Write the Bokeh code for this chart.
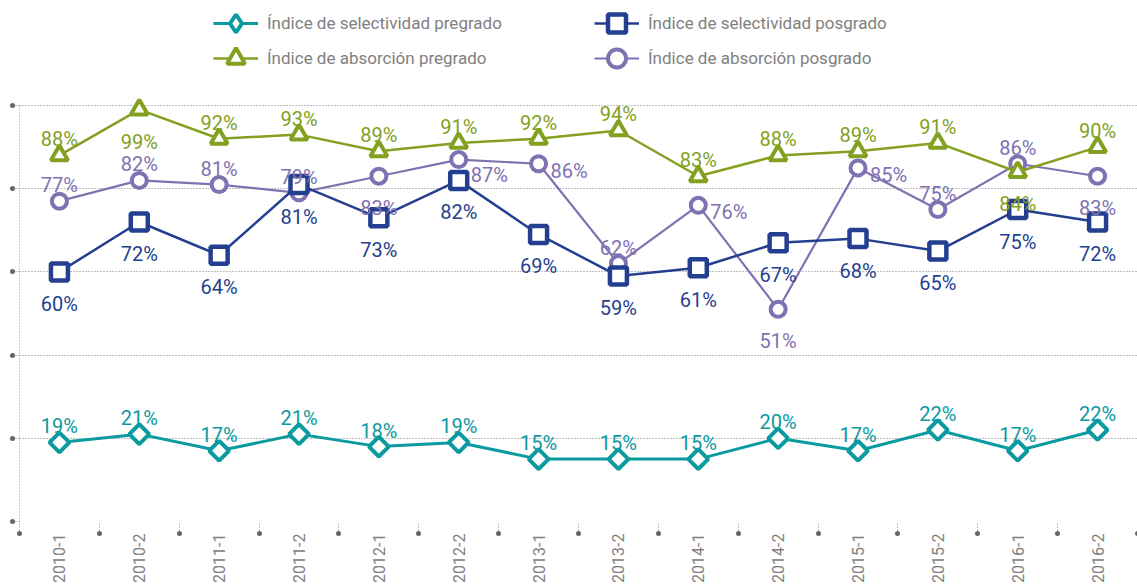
import math
from bokeh.plotting import figure
from bokeh.models import (Range1d, FixedTicker, Legend, LegendItem,
                          ColumnDataSource, LinearAxis)
from bokeh.embed import file_html
from bokeh.resources import INLINE
from bokeh.core.properties import value

# ---------------- data ----------------
periods = ["2010-1", "2010-2", "2011-1", "2011-2", "2012-1", "2012-2", "2013-1",
           "2013-2", "2014-1", "2014-2", "2015-1", "2015-2", "2016-1", "2016-2"]
sel_pregrado = [19, 21, 17, 21, 18, 19, 15, 15, 15, 20, 17, 22, 17, 22]
sel_posgrado = [60, 72, 64, 81, 73, 82, 69, 59, 61, 67, 68, 65, 75, 72]
abs_pregrado = [88, 99, 92, 93, 89, 91, 92, 94, 83, 88, 89, 91, 84, 90]
abs_posgrado = [77, 82, 81, 79, 83, 87, 86, 62, 76, 51, 85, 75, 86, 83]

# label placement for each point (style only)
place_sel_pre = ["above"] * 14
place_sel_pos = ["below"] * 14
place_abs_pre = ["above", "below"] + ["above"] * 10 + ["below", "above"]
place_abs_pos = ["above", "above", "above", "above", "below", "lowright", "right",
                 "above", "right", "below", "right", "above", "above", "below"]

names = ["Índice de selectividad pregrado", "Índice de absorción pregrado",
         "Índice de selectividad posgrado", "Índice de absorción posgrado"]

FONT_STR = "Roboto"
FONT = value(FONT_STR)
TEAL, NAVY, GREEN, PURPLE = "#0a9aa0", "#243f8f", "#84a021", "#8071b2"
GREY = "#808080"

n = len(periods)
xs = [i + 0.5 for i in range(n)]
yt = [0, 0.2, 0.4, 0.6, 0.8, 1.0]

# frame spans from the top of the figure so the legend sits inside it
Y_TOP = 521 / 416.0
p = figure(width=1137, height=585, x_range=Range1d(0, n), y_range=Range1d(0, Y_TOP),
           output_backend="svg", toolbar_location=None,
           min_border_left=19, min_border_right=0, min_border_top=0,
           min_border_bottom=64)
p.outline_line_color = None
p.background_fill_color = "white"

# grid
p.xgrid.visible = False
p.ygrid.ticker = FixedTicker(ticks=yt)
p.ygrid.grid_line_color = "#808080"
p.ygrid.grid_line_dash = "1 2"

# y axis: dotted stems + end dots, no labels
ya = p.yaxis[0]
ya.ticker = FixedTicker(ticks=yt, minor_ticks=yt)
ya.bounds = (0, 1)
ya.axis_line_color = "#a0a0a0"
ya.axis_line_dash = "1 2"
ya.major_tick_in = 0
ya.major_tick_out = 7
ya.major_tick_line_color = "#808080"
ya.major_tick_line_dash = "1 2"
ya.minor_tick_in = 0
ya.minor_tick_out = 7
ya.minor_tick_line_color = "#666666"
ya.minor_tick_line_width = 5
ya.minor_tick_line_cap = "round"
ya.minor_tick_line_dash = "0 20"
ya.major_label_overrides = {t: "" for t in yt}
ya.major_label_text_font_size = "1px"
ya.major_label_standoff = 0

# x axis 1 (closest to frame): dotted stems and dots at band edges
edges = list(range(n + 1))
xa = p.xaxis[0]
xa.ticker = FixedTicker(ticks=edges, minor_ticks=edges)
xa.major_label_overrides = {e: "" for e in edges}
xa.major_label_text_font_size = "1px"
xa.major_label_standoff = 0
xa.major_tick_in = 0
xa.major_tick_out = 12
xa.major_tick_line_color = "#808080"
xa.major_tick_line_dash = "1 2"
xa.minor_tick_in = 0
xa.minor_tick_out = 12
xa.minor_tick_line_color = "#666666"
xa.minor_tick_line_width = 5
xa.minor_tick_line_cap = "round"
xa.minor_tick_line_dash = "0 20"
xa.axis_line_color = None

# x axis 2: category labels
xl = LinearAxis(ticker=FixedTicker(ticks=xs, minor_ticks=[]),
                major_label_overrides={x: lab for x, lab in zip(xs, periods)},
                major_label_orientation=math.pi / 2,
                major_label_text_font=FONT_STR,
                major_label_text_font_size="16px",
                major_label_text_color=GREY,
                major_label_standoff=0,
                major_tick_line_color=None, minor_tick_line_color=None,
                major_tick_in=0, major_tick_out=0,
                axis_line_color=None)
p.add_layout(xl, "below")

# series: (values, placement, color, marker, size, angle, line width, marker lw)
series = {
    "abs_pos": (abs_posgrado, place_abs_pos, PURPLE, "circle", 15, 0, 2.2, 4),
    "sel_pos": (sel_posgrado, place_sel_pos, NAVY, "square", 17, 0, 2.5, 4.5),
    "abs_pre": (abs_pregrado, place_abs_pre, GREEN, "triangle", 17, 0, 2.5, 4),
    "sel_pre": (sel_pregrado, place_sel_pre, TEAL, "square", 14, math.pi / 4, 3, 4),
}
rends = {}
for key, (vals, place, col, mk, sz, ang, lw, mlw) in series.items():
    src = ColumnDataSource(dict(x=xs, y=[v / 100 for v in vals]))
    lr = p.line("x", "y", source=src, line_color=col, line_width=lw)
    sr = p.scatter("x", "y", source=src, marker=mk, size=sz, angle=ang,
                   fill_color="white", line_color=col, line_width=mlw)
    if ang:
        # the legend does not rotate markers: give it a diamond swatch
        sr = p.scatter("x", "y", source=src, marker="diamond", size=sz,
                       fill_color="white", line_color=col, line_width=mlw,
                       visible=False)
    rends[key] = (lr, sr)

offsets = {"above": (0, -16, "center"), "below": (0, 32, "center"),
           "right": (12, 7, "left"), "lowright": (12, 15, "left")}
for key, (vals, place, col, mk, sz, ang, lw, mlw) in series.items():
    for kind, (dx, dy, al) in offsets.items():
        idx = [i for i in range(n) if place[i] == kind]
        if not idx:
            continue
        src = ColumnDataSource(dict(x=[xs[i] for i in idx],
                                    y=[vals[i] / 100 for i in idx],
                                    t=[f"{vals[i]}%" for i in idx]))
        p.text("x", "y", text="t", source=src, x_offset=dx, y_offset=dy,
               text_align=al, text_baseline="alphabetic", text_font=FONT,
               text_font_size="20px", text_color=col)

# legend: one horizontal legend per row
legend_rows = [
    ([(names[0], "sel_pre"), (names[2], "sel_pos")], (194, 473)),
    ([(names[1], "abs_pre"), (names[3], "abs_pos")], (194, 438)),
]
for entries, loc in legend_rows:
    lg = Legend(items=[LegendItem(label=lab, renderers=list(rends[k]))
                       for lab, k in entries],
                orientation="horizontal", location=loc,
                glyph_width=45, glyph_height=50, spacing=3,
                label_standoff=9, label_width=324, padding=0, margin=0,
                border_line_color=None, background_fill_alpha=0,
                inactive_fill_alpha=0,
                label_text_font=FONT_STR, label_text_font_size="17px",
                label_text_color=GREY)
    p.add_layout(lg)

open("out.html", "w").write(file_html(p, INLINE))
